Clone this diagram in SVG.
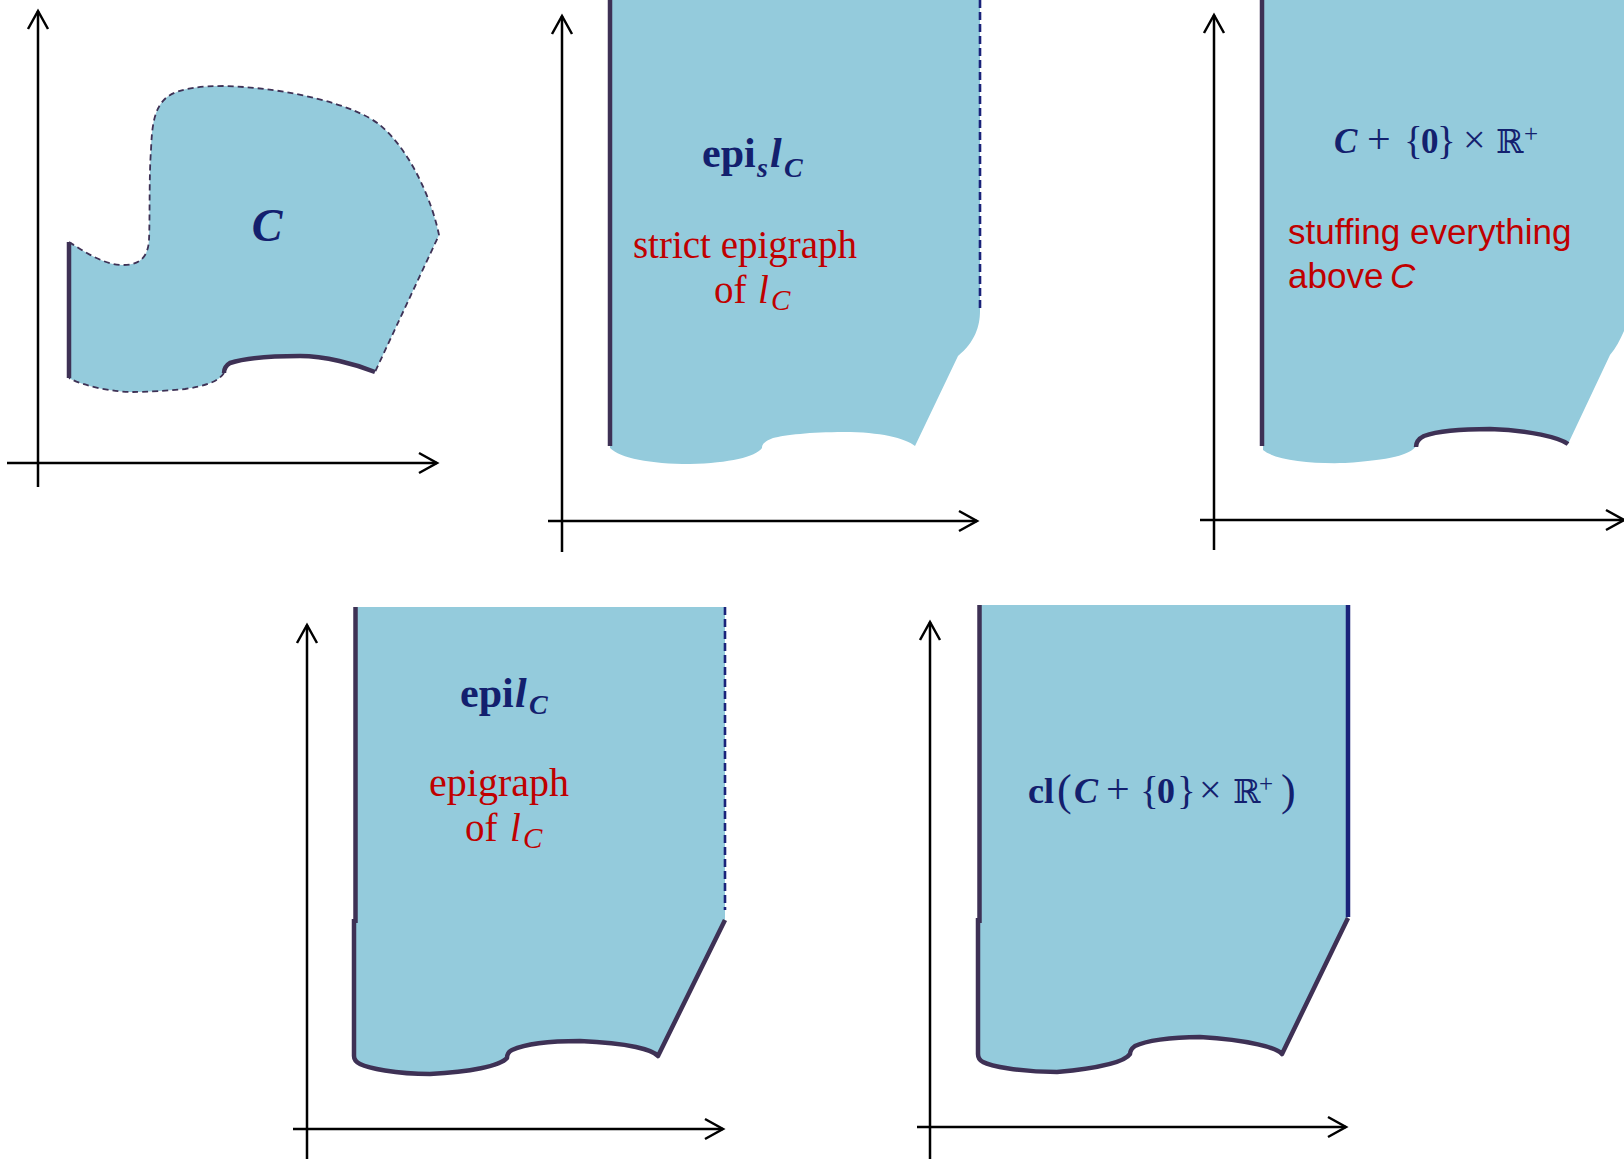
<svg xmlns="http://www.w3.org/2000/svg" width="1624" height="1159" viewBox="0 0 1624 1159">
<style>
.region{fill:#94CBDC;stroke:none}
.edge{fill:none;stroke:#3E3155;stroke-width:4.5;stroke-linejoin:round;stroke-linecap:butt}
.dashp{fill:none;stroke:#3E3155;stroke-width:1.8;stroke-dasharray:6 4}
.dashn{fill:none;stroke:#1A237A;stroke-width:2.6;stroke-dasharray:8 4}
.solidn{fill:none;stroke:#1A237A;stroke-width:4.5}
.axis{fill:none;stroke:#000;stroke-width:2.5}
.navy{fill:#13206E;font-family:"Liberation Serif",serif;font-weight:bold}
.red{fill:#C00000;font-family:"Liberation Serif",serif}
.reds{fill:#C00000;font-family:"Liberation Sans",sans-serif}
.it{font-style:italic}
.reg{font-weight:normal}
.dbl{font-family:"DejaVu Serif",serif;font-weight:normal}
</style>
<defs>
<marker id="arr" markerUnits="userSpaceOnUse" markerWidth="24" markerHeight="24" viewBox="-20 -12 24 24" refX="0" refY="0" orient="auto">
<path d="M-18,-10 L0,0 L-18,10" fill="none" stroke="#000" stroke-width="2.5" stroke-linejoin="miter"/>
</marker>
</defs>

<g id="axes">
<line class="axis" x1="38" y1="487" x2="38" y2="11" marker-end="url(#arr)"/>
<line class="axis" x1="7" y1="463" x2="437" y2="463" marker-end="url(#arr)"/>
<line class="axis" x1="562" y1="552" x2="562" y2="16" marker-end="url(#arr)"/>
<line class="axis" x1="548" y1="521" x2="977" y2="521" marker-end="url(#arr)"/>
<line class="axis" x1="1214" y1="550" x2="1214" y2="15" marker-end="url(#arr)"/>
<line class="axis" x1="1200" y1="520" x2="1624" y2="520" marker-end="url(#arr)"/>
<line class="axis" x1="307" y1="1159" x2="307" y2="625" marker-end="url(#arr)"/>
<line class="axis" x1="293" y1="1129" x2="723" y2="1129" marker-end="url(#arr)"/>
<line class="axis" x1="930" y1="1159" x2="930" y2="622" marker-end="url(#arr)"/>
<line class="axis" x1="917" y1="1127" x2="1346" y2="1127" marker-end="url(#arr)"/>
</g>

<g id="set-C">
<path class="region" d="M69,242 C85,252 104,265 123,265 C140,265 148,257 149,240 C150,220 149,175 151,150 C152,125 154,108 167,97 C180,88 200,86 225,86 C290,88 355,105 380,125 C410,150 432,200 439,235 L375,372 C355,364 325,356 300,356 C270,356 245,358 230,363 C225,366 224,370 224,373 C218,382 205,386 185,389 C165,391 145,392 133,392 C115,392 85,387 69,378 Z"/>
<path class="dashp" d="M69,242 C85,252 104,265 123,265 C140,265 148,257 149,240 C150,220 149,175 151,150 C152,125 154,108 167,97 C180,88 200,86 225,86 C290,88 355,105 380,125 C410,150 432,200 439,235 L375,372"/>
<path class="dashp" d="M224,373 C218,382 205,386 185,389 C165,391 145,392 133,392 C115,392 85,387 69,378"/>
<path class="edge" d="M69,242 L69,378"/>
<path class="edge" d="M375,372 C355,364 325,356 300,356 C270,356 245,358 230,363 C225,366 224,370 224,373"/>
<text class="navy it" x="267" y="241" font-size="46" text-anchor="middle">C</text>
</g>

<g id="strict-epigraph">
<path class="region" d="M610,0 L980,0 L980,311 C980,326 975,342 958,356 L915,446 C905,438 880,432 844,432 C810,432 785,435 773,438 C765,441 762,444 762,448 C755,457 730,463 690,464 C650,464 620,458 610,448 Z"/>
<path class="edge" d="M610,0 L610,446"/>
<path class="dashn" d="M980,0 L980,311"/>
<text class="navy" font-size="42"><tspan x="702" y="167">epi</tspan><tspan class="it" x="757" y="177" font-size="28">s</tspan><tspan class="it" x="770" y="167">l</tspan><tspan class="it" x="784" y="177" font-size="28">C</tspan></text>
<text class="red" x="745" y="258" font-size="39" text-anchor="middle">strict epigraph</text>
<text class="red" font-size="39"><tspan x="714" y="303">of</tspan><tspan class="it" x="758" y="303">l</tspan><tspan class="it" x="771" y="310" font-size="29">C</tspan></text>
</g>

<g id="stuffing">
<path class="region" d="M1262,0 L1624,0 L1624,331 C1620,340 1616,348 1610,355 L1568,444 C1560,438 1530,430 1490,429 C1460,429 1435,432 1424,436 C1418,439 1416,442 1416,446 C1410,455 1390,460 1345,463 C1310,464 1275,460 1263,450 Z"/>
<path class="edge" d="M1262,0 L1262,446"/>
<path class="edge" d="M1568,444 C1560,438 1530,430 1490,429 C1460,429 1435,432 1424,436 C1418,439 1416,442 1416,447"/>
<text class="navy" font-size="35"><tspan class="it" x="1334" y="153">C</tspan><tspan class="reg" x="1367" y="153" font-size="42">+</tspan><tspan class="reg" x="1404" y="154" font-size="39">{</tspan><tspan x="1421" y="153">0</tspan><tspan class="reg" x="1437" y="154" font-size="39">}</tspan><tspan class="reg" x="1463" y="153" font-size="40">×</tspan><tspan class="dbl" x="1496" y="153" font-size="33">ℝ</tspan><tspan class="reg" x="1524" y="142" font-size="25">+</tspan></text>
<text class="reds" font-size="35"><tspan x="1288" y="244">stuffing everything</tspan><tspan x="1288" y="288">above</tspan><tspan class="it" x="1390" y="288">C</tspan></text>
</g>

<g id="epigraph">
<path class="region" d="M355,607 L725,607 L725,920 L658,1056 C653,1050 630,1043 580,1041 C550,1041 525,1044 512,1050 C508,1052 507,1055 507,1058 C500,1066 470,1072 430,1074 C395,1074 368,1068 360,1064 C356,1062 354,1059 354,1056 L354,921 L355,921 Z"/>
<path class="edge" d="M355.5,607 L355.5,923"/>
<path class="edge" d="M354,919 L354,1056 C354,1059 356,1062 360,1064 C368,1068 395,1074 430,1074 C470,1072 500,1066 507,1058 C507,1055 508,1052 512,1050 C525,1044 550,1041 580,1041 C630,1043 653,1050 658,1056 L725,920"/>
<path class="dashn" d="M725,607 L725,910"/>
<text class="navy" font-size="42"><tspan x="460" y="707">epi</tspan><tspan class="it" x="515" y="707">l</tspan><tspan class="it" x="529" y="714" font-size="28">C</tspan></text>
<text class="red" x="499" y="796" font-size="40" text-anchor="middle">epigraph</text>
<text class="red" font-size="39"><tspan x="465" y="841">of</tspan><tspan class="it" x="510" y="841">l</tspan><tspan class="it" x="523" y="848" font-size="29">C</tspan></text>
</g>

<g id="closure">
<path class="region" d="M979,605 L1348,605 L1348,918 L1282,1054 C1277,1048 1250,1040 1200,1037 C1170,1037 1145,1041 1135,1046 C1131,1049 1130,1052 1130,1054 C1125,1062 1100,1068 1057,1072 C1020,1072 990,1066 983,1062 C979,1060 978,1057 978,1054 L978,920 L979,920 Z"/>
<path class="edge" d="M979.5,605 L979.5,923"/>
<path class="edge" d="M978,918 L978,1054 C978,1057 979,1060 983,1062 C990,1066 1020,1072 1057,1072 C1100,1068 1125,1062 1130,1054 C1130,1052 1131,1049 1135,1046 C1145,1041 1170,1037 1200,1037 C1250,1040 1277,1048 1282,1054 L1348,918"/>
<path class="solidn" d="M1348,605 L1348,917"/>
<text class="navy" font-size="36"><tspan x="1028" y="803">cl</tspan><tspan class="reg" x="1057" y="805" font-size="44">(</tspan><tspan class="it" x="1074" y="803">C</tspan><tspan class="reg" x="1106" y="803" font-size="42">+</tspan><tspan class="reg" x="1140" y="804" font-size="39">{</tspan><tspan x="1157" y="803">0</tspan><tspan class="reg" x="1177" y="804" font-size="39">}</tspan><tspan class="reg" x="1199" y="803" font-size="40">×</tspan><tspan class="dbl" x="1233" y="803" font-size="33">ℝ</tspan><tspan class="reg" x="1259" y="792" font-size="25">+</tspan><tspan class="reg" x="1281" y="805" font-size="44">)</tspan></text>
</g>
</svg>
